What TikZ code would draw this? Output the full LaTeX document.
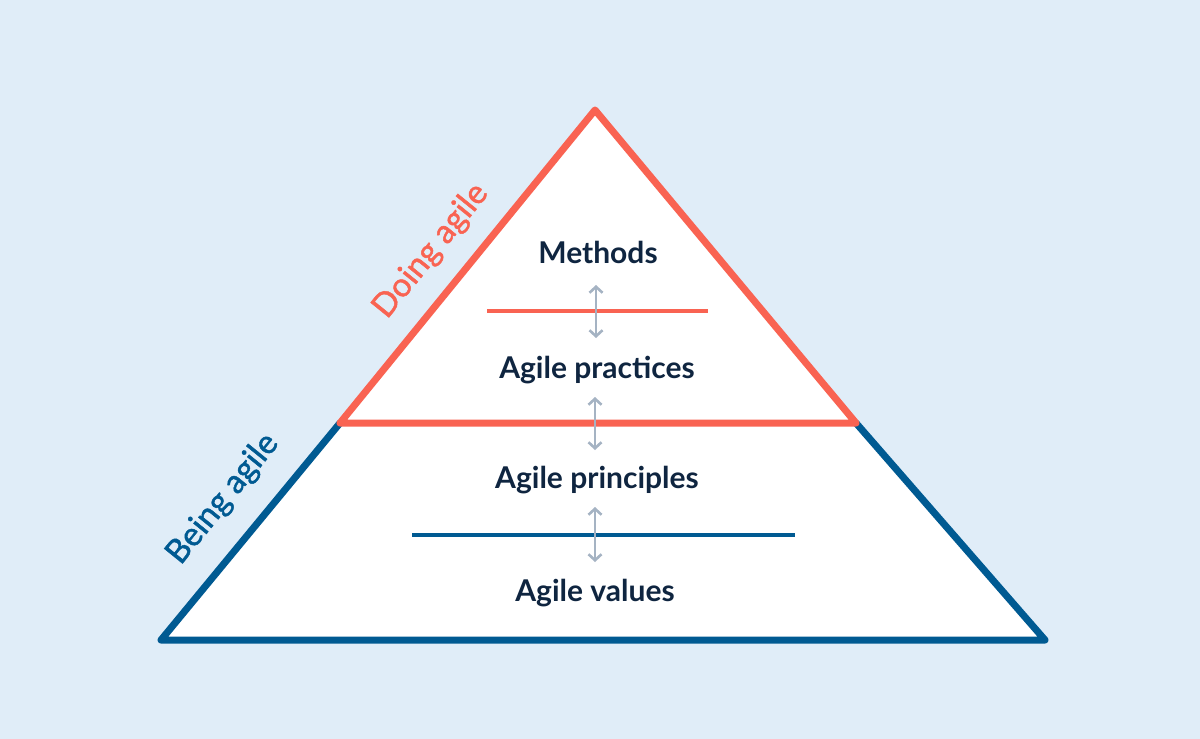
\documentclass[tikz,border=0pt]{standalone}
\usepackage{fontspec}
\setmainfont{Lato}
\newfontfamily\sidefont[FakeBold=1.4]{Lato}
\usetikzlibrary{arrows.meta}
\definecolor{bgc}{HTML}{E0EDF8}
\definecolor{redc}{HTML}{F96352}
\definecolor{bluec}{HTML}{005A92}
\definecolor{txtc}{HTML}{0F2540}
\definecolor{arrc}{HTML}{A5B3C3}
\tikzset{
  lay/.style={font=\bfseries\fontsize{30}{34}\selectfont, text=txtc, inner sep=0pt},
  side/.style={font=\sidefont\fontsize{33}{36}\selectfont, inner sep=0pt},
  twoway/.style={draw=arrc, line width=2.8pt, {Straight Barb[length=6pt,width=13pt,line width=2.6pt]}-{Straight Barb[length=6pt,width=13pt,line width=2.6pt]}},
}
\begin{document}
\begin{tikzpicture}[x=1pt,y=-1pt]
\fill[bgc] (0,0) rectangle (1200,739);
\useasboundingbox (0,0) rectangle (1200,739);
\coordinate (apex) at (595,110);
\coordinate (rl) at (340,423);
\coordinate (rr) at (856,423);
\coordinate (bl) at (161,640);
\coordinate (br) at (1045,640);
\fill[white] (apex) -- (rl) -- (bl) -- (br) -- (rr) -- cycle;
\draw[bluec, line width=7pt, line join=round, line cap=round] (rl) -- (bl) -- (br) -- (rr);
\draw[redc, line width=7pt, line join=round] (apex) -- (rl) -- (rr) -- cycle;
\coordinate (m1l) at (487,311); \coordinate (m1r) at (708,311);
\coordinate (m2l) at (412,535); \coordinate (m2r) at (795,535);
\draw[redc, line width=4pt] (m1l) -- (m1r);
\draw[bluec, line width=4pt] (m2l) -- (m2r);
\coordinate (a1t) at (596,285); \coordinate (a1b) at (596,338);
\coordinate (a2t) at (595,397); \coordinate (a2b) at (595,450);
\coordinate (a3t) at (595,507); \coordinate (a3b) at (595,562);
\draw[twoway] (a1t) -- (a1b);
\draw[twoway] (a2t) -- (a2b);
\draw[twoway] (a3t) -- (a3b);
\node[lay] (methods) at (598,252) {Methods};
\node[lay] (practices) at (597,370) {Agile practices};
\node[lay] (principles) at (597,480) {Agile principles};
\node[lay] (values) at (595,593) {Agile values};
\node[side, text=redc, rotate=51] (doing) at (431,251) {Doing agile};
\node[side, text=bluec, rotate=51] (being) at (223,499) {Being agile};
\end{tikzpicture}
\end{document}
